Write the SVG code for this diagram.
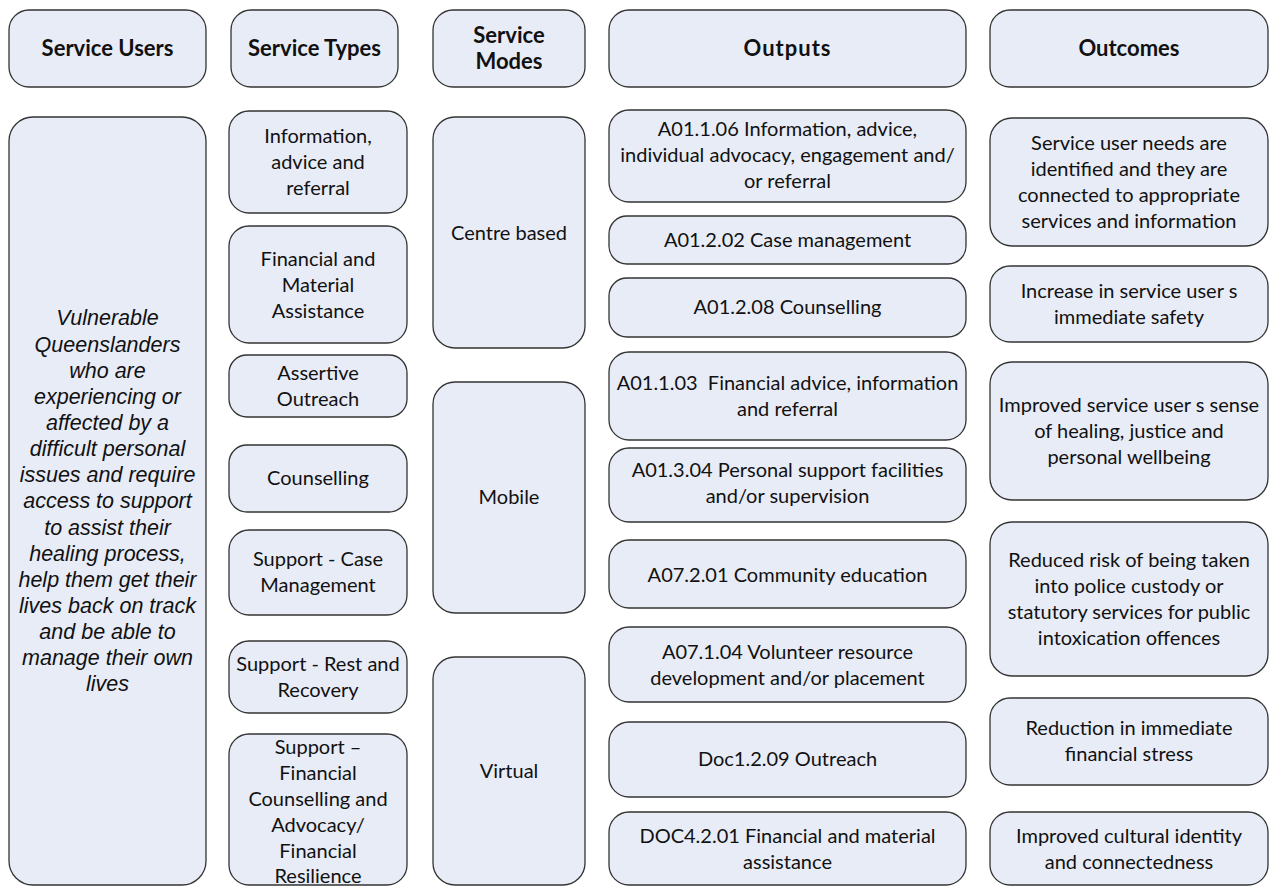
<svg xmlns="http://www.w3.org/2000/svg" width="1269" height="886" viewBox="0 0 1269 886">
<style>
.box{fill:#E8ECF7;stroke:#333;stroke-width:1.3}
.t{font-family:Lato,"Liberation Sans",sans-serif;font-size:20px;fill:#111;text-anchor:middle}
.h{font-weight:bold;font-size:22px}
.i{font-family:"Liberation Sans",Arial,sans-serif;font-style:italic;font-size:21.5px;fill:#111;text-anchor:middle}
</style>
<rect width="1269" height="886" fill="#fff"/>
<g id="connectors"/>
<!-- Headers -->
<g id="hdr-users"><rect class="box" x="9" y="10" width="197" height="77" rx="20"/><text class="t h" x="107.5" y="56">Service Users</text></g>
<g id="hdr-types"><rect class="box" x="231" y="10" width="167" height="77" rx="20"/><text class="t h" x="314.5" y="56">Service Types</text></g>
<g id="hdr-modes"><rect class="box" x="433" y="10" width="152" height="77" rx="20"/><text class="t h"><tspan x="509" y="43">Service</tspan><tspan x="509" y="69">Modes</tspan></text></g>
<g id="hdr-outputs"><rect class="box" x="609" y="10" width="357" height="77" rx="20"/><text class="t h" x="787.5" y="56" letter-spacing="1">Outputs</text></g>
<g id="hdr-outcomes"><rect class="box" x="990" y="10" width="278" height="77" rx="20"/><text class="t h" x="1129" y="56">Outcomes</text></g>
<!-- Service users -->
<g id="users"><rect class="box" x="9" y="117" width="197" height="768" rx="24"/>
<text class="i"><tspan x="107.5" y="325">Vulnerable</tspan><tspan x="107.5" y="352">Queenslanders</tspan><tspan x="107.5" y="378">who are</tspan><tspan x="107.5" y="404">experiencing or</tspan><tspan x="107.5" y="430">affected by a</tspan><tspan x="107.5" y="456">difficult personal</tspan><tspan x="107.5" y="482">issues and require</tspan><tspan x="107.5" y="508">access to support</tspan><tspan x="107.5" y="535">to assist their</tspan><tspan x="107.5" y="561">healing process,</tspan><tspan x="107.5" y="587">help them get their</tspan><tspan x="107.5" y="613">lives back on track</tspan><tspan x="107.5" y="639">and be able to</tspan><tspan x="107.5" y="665">manage their own</tspan><tspan x="107.5" y="691">lives</tspan></text></g>
<!-- Service types -->
<g id="type-info"><rect class="box" x="229" y="111" width="178" height="102" rx="20"/><text class="t"><tspan x="318" y="143">Information,</tspan><tspan x="318" y="169">advice and</tspan><tspan x="318" y="195">referral</tspan></text></g>
<g id="type-financial"><rect class="box" x="229" y="226" width="178" height="117" rx="20"/><text class="t"><tspan x="318" y="266">Financial and</tspan><tspan x="318" y="292">Material</tspan><tspan x="318" y="318">Assistance</tspan></text></g>
<g id="type-outreach"><rect class="box" x="229" y="355" width="178" height="62" rx="18"/><text class="t"><tspan x="318" y="380">Assertive</tspan><tspan x="318" y="406">Outreach</tspan></text></g>
<g id="type-counselling"><rect class="box" x="229" y="445" width="178" height="67" rx="18"/><text class="t" x="318" y="485">Counselling</text></g>
<g id="type-case"><rect class="box" x="229" y="530" width="178" height="85" rx="20"/><text class="t"><tspan x="318" y="566">Support - Case</tspan><tspan x="318" y="592">Management</tspan></text></g>
<g id="type-rest"><rect class="box" x="229" y="641" width="178" height="72" rx="20"/><text class="t"><tspan x="318" y="671">Support - Rest and</tspan><tspan x="318" y="697">Recovery</tspan></text></g>
<g id="type-fincoun"><rect class="box" x="229" y="734" width="178" height="151" rx="20"/><text class="t"><tspan x="318" y="754">Support –</tspan><tspan x="318" y="780">Financial</tspan><tspan x="318" y="806">Counselling and</tspan><tspan x="318" y="832">Advocacy/</tspan><tspan x="318" y="858">Financial</tspan><tspan x="318" y="883">Resilience</tspan></text></g>
<!-- Service modes -->
<g id="mode-centre"><rect class="box" x="433" y="117" width="152" height="231" rx="22"/><text class="t" x="509" y="240">Centre based</text></g>
<g id="mode-mobile"><rect class="box" x="433" y="382" width="152" height="231" rx="22"/><text class="t" x="509" y="504">Mobile</text></g>
<g id="mode-virtual"><rect class="box" x="433" y="657" width="152" height="228" rx="22"/><text class="t" x="509" y="778">Virtual</text></g>
<!-- Outputs -->
<g id="out-1"><rect class="box" x="609" y="110" width="357" height="92" rx="20"/><text class="t"><tspan x="787.5" y="136">A01.1.06 Information, advice,</tspan><tspan x="787.5" y="162">individual advocacy, engagement and/</tspan><tspan x="787.5" y="188">or referral</tspan></text></g>
<g id="out-2"><rect class="box" x="609" y="216" width="357" height="48" rx="18"/><text class="t" x="787.5" y="247">A01.2.02 Case management</text></g>
<g id="out-3"><rect class="box" x="609" y="278" width="357" height="59" rx="18"/><text class="t" x="787.5" y="314">A01.2.08 Counselling</text></g>
<g id="out-4"><rect class="box" x="609" y="352" width="357" height="88" rx="20"/><text class="t"><tspan x="787.5" y="390">A01.1.03&#160; Financial advice, information</tspan><tspan x="787.5" y="416">and referral</tspan></text></g>
<g id="out-5"><rect class="box" x="609" y="448" width="357" height="74" rx="20"/><text class="t"><tspan x="787.5" y="477">A01.3.04 Personal support facilities</tspan><tspan x="787.5" y="503">and/or supervision</tspan></text></g>
<g id="out-6"><rect class="box" x="609" y="540" width="357" height="68" rx="20"/><text class="t" x="787.5" y="582">A07.2.01 Community education</text></g>
<g id="out-7"><rect class="box" x="609" y="627" width="357" height="75" rx="20"/><text class="t"><tspan x="787.5" y="659">A07.1.04 Volunteer resource</tspan><tspan x="787.5" y="685">development and/or placement</tspan></text></g>
<g id="out-8"><rect class="box" x="609" y="722" width="357" height="75" rx="20"/><text class="t" x="787.5" y="766">Doc1.2.09 Outreach</text></g>
<g id="out-9"><rect class="box" x="609" y="812" width="357" height="73" rx="20"/><text class="t"><tspan x="787.5" y="843">DOC4.2.01 Financial and material</tspan><tspan x="787.5" y="869">assistance</tspan></text></g>
<!-- Outcomes -->
<g id="oc-1"><rect class="box" x="990" y="118" width="278" height="128" rx="22"/><text class="t"><tspan x="1129" y="150">Service user needs are</tspan><tspan x="1129" y="176">identified and they are</tspan><tspan x="1129" y="202">connected to appropriate</tspan><tspan x="1129" y="228">services and information</tspan></text></g>
<g id="oc-2"><rect class="box" x="990" y="266" width="278" height="76" rx="20"/><text class="t"><tspan x="1129" y="298">Increase in service user s</tspan><tspan x="1129" y="324">immediate safety</tspan></text></g>
<g id="oc-3"><rect class="box" x="990" y="362" width="278" height="138" rx="22"/><text class="t"><tspan x="1129" y="412">Improved service user s sense</tspan><tspan x="1129" y="438">of healing, justice and</tspan><tspan x="1129" y="464">personal wellbeing</tspan></text></g>
<g id="oc-4"><rect class="box" x="990" y="522" width="278" height="154" rx="22"/><text class="t"><tspan x="1129" y="567">Reduced risk of being taken</tspan><tspan x="1129" y="593">into police custody or</tspan><tspan x="1129" y="619">statutory services for public</tspan><tspan x="1129" y="645">intoxication offences</tspan></text></g>
<g id="oc-5"><rect class="box" x="990" y="698" width="278" height="87" rx="20"/><text class="t"><tspan x="1129" y="735">Reduction in immediate</tspan><tspan x="1129" y="761">financial stress</tspan></text></g>
<g id="oc-6"><rect class="box" x="990" y="812" width="278" height="73" rx="20"/><text class="t"><tspan x="1129" y="843">Improved cultural identity</tspan><tspan x="1129" y="869">and connectedness</tspan></text></g>
</svg>
